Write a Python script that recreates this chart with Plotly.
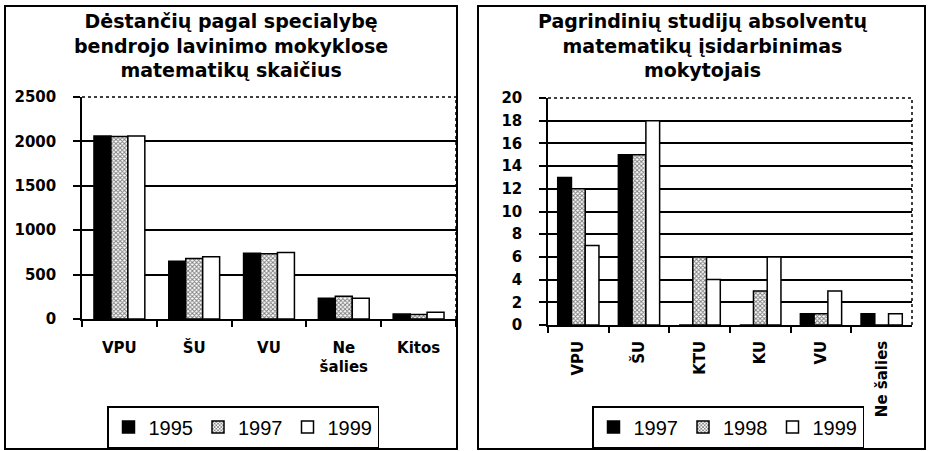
import plotly.graph_objects as go

# left chart: teachers of mathematics by speciality
left_title = "Dėstančių pagal specialybę<br>bendrojo lavinimo mokyklose<br>matematikų skaičius"
left_cats = ["VPU", "ŠU", "VU", "Ne<br>šalies", "Kitos"]
left_years = ["1995", "1997", "1999"]
left_1995 = [2060, 650, 740, 235, 55]
left_1997 = [2055, 680, 735, 255, 50]
left_1999 = [2060, 700, 750, 235, 75]
left_ticks = [0, 500, 1000, 1500, 2000, 2500]

# right chart: graduates employed as teachers
right_title = "Pagrindinių studijų absolventų<br>matematikų įsidarbinimas<br>mokytojais"
right_cats = ["VPU", "ŠU", "KTU", "KU", "VU", "Ne šalies"]
right_years = ["1997", "1998", "1999"]
right_1997 = [13, 15, 0, 0, 1, 1]
right_1998 = [12, 15, 6, 3, 1, 0]
right_1999 = [7, 18, 4, 6, 3, 1]
right_ticks = list(range(0, 21, 2))

FONT = "DejaVu Sans, Liberation Sans, sans-serif"
W, H = 928, 451

def px_x(v):
    return v / W

def px_y(v):
    return 1 - v / H

solid = dict(color="black", line=dict(color="black", width=1.5))
hatch = dict(color="white", line=dict(color="black", width=1.5),
             pattern=dict(shape="x", fgcolor="black", bgcolor="white", size=3, solidity=0.55))
blank = dict(color="white", line=dict(color="black", width=1.5))
styles = [solid, hatch, blank]

fig = go.Figure()

for name, vals, st in zip(left_years, [left_1995, left_1997, left_1999], styles):
    fig.add_trace(go.Bar(x=left_cats, y=vals, name=name, marker=st,
                         xaxis="x", yaxis="y", legend="legend"))

for name, vals, st in zip(right_years, [right_1997, right_1998, right_1999], styles):
    fig.add_trace(go.Bar(x=right_cats, y=vals, name=name, marker=st,
                         xaxis="x2", yaxis="y2", legend="legend2"))

tick_font = dict(family=FONT, size=15, color="black", weight="bold")

xcommon = dict(showline=True, linecolor="black", linewidth=1.5, ticks="outside",
               tickson="boundaries", ticklen=6, tickwidth=1.5, tickcolor="black",
               showgrid=False, tickfont=tick_font, automargin=False)
ycommon = dict(showline=True, linecolor="black", linewidth=1.5, ticks="outside",
               ticklen=7, tickwidth=1.5, tickcolor="black", showgrid=True,
               gridcolor="black", gridwidth=1.5, zeroline=False, tickfont=tick_font,
               ticklabelstandoff=14, automargin=False)

legend_font = dict(family="Liberation Sans, Arial, sans-serif", size=20, color="black")

fig.update_layout(
    width=W, height=H,
    margin=dict(l=0, r=0, t=0, b=0, autoexpand=False),
    paper_bgcolor="white", plot_bgcolor="white",
    barmode="group",
    bargap=0.32, bargroupgap=0,
    font=dict(family=FONT, color="black"),
    xaxis=dict(domain=[px_x(82), px_x(456)], anchor="y", tickangle=0,
               ticklabelstandoff=14, **xcommon),
    yaxis=dict(domain=[px_y(319), px_y(97)], anchor="x", range=[0, 2500],
               tickvals=left_ticks, **ycommon),
    xaxis2=dict(domain=[px_x(548), px_x(912)], anchor="y2", tickangle=-90,
                ticklabelstandoff=8, **xcommon),
    yaxis2=dict(domain=[px_y(325), px_y(98)], anchor="x2", range=[0, 20],
                tickvals=right_ticks, **ycommon),
    legend=dict(orientation="h", x=px_x(107), y=px_y(406), xanchor="left", yanchor="top",
                bordercolor="black", borderwidth=1.5, bgcolor="white", itemwidth=30,
                font=legend_font),
    legend2=dict(orientation="h", x=px_x(592), y=px_y(406), xanchor="left", yanchor="top",
                 bordercolor="black", borderwidth=1.5, bgcolor="white", itemwidth=30,
                 font=legend_font),
)

# chart frames
for x0, x1 in [(5, 457), (478, 925)]:
    fig.add_shape(type="rect", xref="paper", yref="paper",
                  x0=px_x(x0), x1=px_x(x1), y0=px_y(449), y1=px_y(6),
                  line=dict(color="black", width=2))

# dotted top and right edges of the plot areas
for xa, ya in [("x", "y"), ("x2", "y2")]:
    fig.add_shape(type="line", xref=xa + " domain", yref=ya + " domain",
                  x0=0, x1=1, y0=1, y1=1, line=dict(color="black", width=1.5, dash="dot"))
    fig.add_shape(type="line", xref=xa + " domain", yref=ya + " domain",
                  x0=1, x1=1, y0=0, y1=1, line=dict(color="black", width=1.5, dash="dot"))

title_font = dict(family=FONT, size=19, color="black", weight="bold")
fig.add_annotation(text=left_title, xref="paper", yref="paper", x=px_x(231), y=px_y(8),
                   xanchor="center", yanchor="top", showarrow=False, font=title_font)
fig.add_annotation(text=right_title, xref="paper", yref="paper", x=px_x(702), y=px_y(8),
                   xanchor="center", yanchor="top", showarrow=False, font=title_font)

# the page body has a default margin; drop it so the figure fills the window
fig.write_html("out.html", config={"displayModeBar": False},
               post_script="document.body.style.margin='0';")
